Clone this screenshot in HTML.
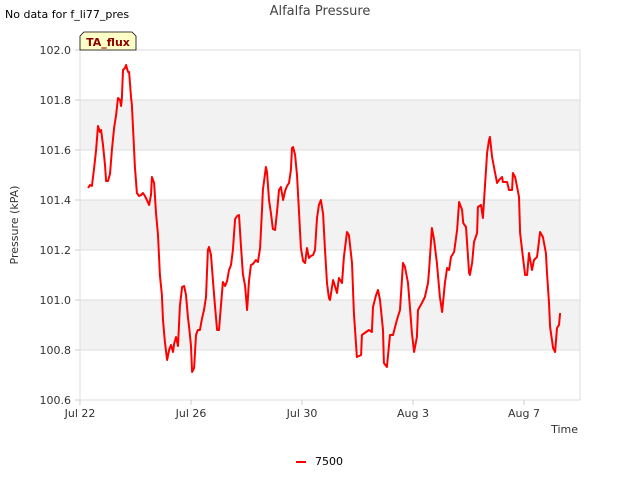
<!DOCTYPE html>
<html><head><meta charset="utf-8"><style>
body{margin:0;background:#fff;font-family:"Liberation Sans","DejaVu Sans",sans-serif;}
svg text{font-family:"DejaVu Sans","Liberation Sans",sans-serif;}
</style></head><body>
<svg id="chart" width="640" height="480" xmlns="http://www.w3.org/2000/svg">
<rect width="640" height="480" fill="#fff"/>
<text x="320" y="15" text-anchor="middle" font-size="13" fill="#444">Alfalfa Pressure</text>
<text x="5" y="18" font-size="11" fill="#000">No data for f_li77_pres</text>
<g id="plot"></g>
<g>
<path d="M80,50 L80,36 L84,32 L132,32 L136,36 L136,50 Z" fill="#ffffc8" stroke="#000" stroke-width="0.8"/>
<text x="108" y="46" text-anchor="middle" font-size="11" font-weight="bold" fill="#8b0000">TA_flux</text>
</g>
<text transform="translate(18,225) rotate(-90)" text-anchor="middle" font-size="11" fill="#333">Pressure (kPA)</text>
<text x="578" y="433" text-anchor="end" font-size="11" fill="#333">Time</text>
<g>
<line x1="296" y1="462" x2="306" y2="462" stroke="#f00" stroke-width="2"/>
<text x="315" y="465" font-size="11" fill="#000">7500</text>
</g>
</svg>
<script>
const tickValues=[100.6,100.8,101.0,101.2,101.4,101.6,101.8,102.0];
const tickLabels=["100.6","100.8","101.0","101.2","101.4","101.6","101.8","102.0"];
const xTickDays=[0,4,8,12,16];
const xTickLabels=["Jul 22","Jul 26","Jul 30","Aug 3","Aug 7"];
const days=[0.29,0.36,0.43,0.50,0.58,0.65,0.72,0.76,0.83,0.90,0.94,1.01,1.08,1.15,1.23,1.30,1.37,1.44,1.48,1.51,1.55,1.62,1.66,1.73,1.77,1.84,1.87,1.95,1.98,2.05,2.13,2.20,2.27,2.34,2.41,2.49,2.56,2.59,2.67,2.74,2.81,2.88,2.95,2.99,3.06,3.14,3.21,3.28,3.35,3.39,3.46,3.53,3.60,3.68,3.75,3.82,3.89,3.93,4.00,4.04,4.11,4.18,4.25,4.32,4.40,4.47,4.54,4.61,4.65,4.72,4.79,4.86,4.94,5.01,5.08,5.15,5.23,5.30,5.37,5.44,5.51,5.59,5.66,5.73,5.80,5.87,5.95,6.02,6.09,6.16,6.23,6.34,6.41,6.49,6.56,6.59,6.70,6.74,6.81,6.88,6.95,7.03,7.10,7.17,7.24,7.32,7.39,7.46,7.53,7.60,7.64,7.68,7.75,7.82,7.89,7.96,8.04,8.11,8.18,8.25,8.32,8.40,8.47,8.54,8.61,8.68,8.76,8.83,8.90,8.97,9.01,9.12,9.26,9.33,9.44,9.51,9.62,9.69,9.80,9.87,9.98,10.13,10.16,10.31,10.41,10.52,10.56,10.67,10.74,10.81,10.92,10.95,11.06,11.17,11.28,11.42,11.53,11.64,11.71,11.82,11.89,11.96,12.04,12.14,12.18,12.32,12.43,12.54,12.58,12.68,12.76,12.86,12.97,13.05,13.15,13.23,13.30,13.37,13.48,13.59,13.66,13.77,13.81,13.91,14.02,14.05,14.13,14.20,14.31,14.34,14.45,14.52,14.59,14.67,14.74,14.77,14.85,14.95,15.03,15.10,15.21,15.24,15.39,15.46,15.57,15.60,15.68,15.75,15.82,15.86,15.96,16.04,16.11,16.18,16.29,16.36,16.47,16.50,16.58,16.68,16.79,16.83,16.90,16.94,17.05,17.12,17.19,17.26,17.30];
const pressure=[101.448,101.46,101.456,101.52,101.60,101.696,101.672,101.68,101.62,101.54,101.476,101.476,101.504,101.60,101.688,101.74,101.808,101.80,101.776,101.808,101.92,101.928,101.94,101.912,101.912,101.808,101.78,101.60,101.532,101.428,101.416,101.42,101.428,101.416,101.40,101.38,101.42,101.492,101.468,101.348,101.26,101.10,101.02,100.92,100.832,100.76,100.80,100.82,100.792,100.824,100.852,100.816,100.976,101.052,101.056,101.02,100.932,100.892,100.816,100.712,100.728,100.86,100.88,100.88,100.928,100.96,101.012,101.20,101.212,101.18,101.08,100.98,100.88,100.88,100.98,101.072,101.056,101.076,101.12,101.14,101.20,101.324,101.336,101.34,101.22,101.104,101.056,100.96,101.076,101.14,101.144,101.16,101.152,101.208,101.36,101.44,101.532,101.512,101.40,101.348,101.284,101.28,101.352,101.44,101.452,101.40,101.436,101.456,101.468,101.52,101.608,101.612,101.58,101.50,101.36,101.208,101.156,101.148,101.208,101.168,101.176,101.18,101.20,101.328,101.38,101.40,101.344,101.20,101.068,101.008,101.00,101.08,101.028,101.088,101.068,101.172,101.272,101.26,101.148,100.948,100.772,100.78,100.86,100.872,100.88,100.872,100.972,101.02,101.04,101.00,100.88,100.748,100.732,100.86,100.86,100.92,100.96,101.148,101.132,101.068,100.972,100.868,100.792,100.852,100.96,100.988,101.012,101.068,101.12,101.288,101.24,101.148,101.012,100.952,101.068,101.128,101.12,101.172,101.192,101.28,101.392,101.36,101.308,101.292,101.108,101.10,101.148,101.232,101.268,101.372,101.38,101.328,101.452,101.588,101.64,101.652,101.572,101.512,101.468,101.48,101.492,101.472,101.472,101.44,101.44,101.508,101.492,101.452,101.412,101.268,101.172,101.10,101.10,101.188,101.12,101.16,101.172,101.20,101.272,101.252,101.188,101.108,100.988,100.892,100.808,100.792,100.888,100.90,100.948];

const NS="http://www.w3.org/2000/svg";
const L=80,R=580,T=50,B=400,ymin=100.6,ymax=102.0,dayPx=27.75;
const xs=d=>L+d*dayPx;
const ys=v=>B-(v-ymin)/(ymax-ymin)*(B-T);
const plot=document.getElementById('plot');
function mk(tag,attrs){const e=document.createElementNS(NS,tag);for(const k in attrs)e.setAttribute(k,attrs[k]);return e;}
// bands
for(let i=0;i<tickValues.length-1;i++){
  if(i%2===1){
    const r=mk('rect',{x:L,y:ys(tickValues[i+1]),width:R-L,height:ys(tickValues[i])-ys(tickValues[i+1]),fill:'#f2f2f2'});
    
    
    plot.appendChild(r);
  }
}
tickValues.forEach((v,i)=>{
  const g=mk('line',{x1:L,x2:R,y1:ys(v),y2:ys(v),stroke:'#ddd','stroke-width':1});
  
  
  plot.appendChild(g);
  const t=mk('text',{x:L-9,y:ys(v)+4,'text-anchor':'end','font-size':11,fill:'#333'});
  t.textContent=tickLabels[i];
  
  
  plot.appendChild(t);
  const tk=mk('line',{x1:L-5,x2:L,y1:ys(v),y2:ys(v),stroke:'#ccc'});
  
  
  plot.appendChild(tk);
});
const frame=mk('rect',{x:L,y:T,width:R-L,height:B-T,fill:'none',stroke:'#ddd'});


plot.appendChild(frame);
xTickDays.forEach((d,i)=>{
  const tk=mk('line',{x1:xs(d),x2:xs(d),y1:B,y2:B+5,stroke:'#ccc'});
  
  
  plot.appendChild(tk);
  const t=mk('text',{x:xs(d),y:B+17,'text-anchor':'middle','font-size':11,fill:'#333'});
  t.textContent=xTickLabels[i];
  
  
  plot.appendChild(t);
});
const pts=days.map((d,i)=>xs(d).toFixed(1)+','+ys(pressure[i]).toFixed(1)).join(' ');
const line=mk('polyline',{points:pts,fill:'none',stroke:'#ff0000','stroke-width':2,'stroke-linejoin':'round'});


plot.appendChild(line);
</script>
</body></html>
